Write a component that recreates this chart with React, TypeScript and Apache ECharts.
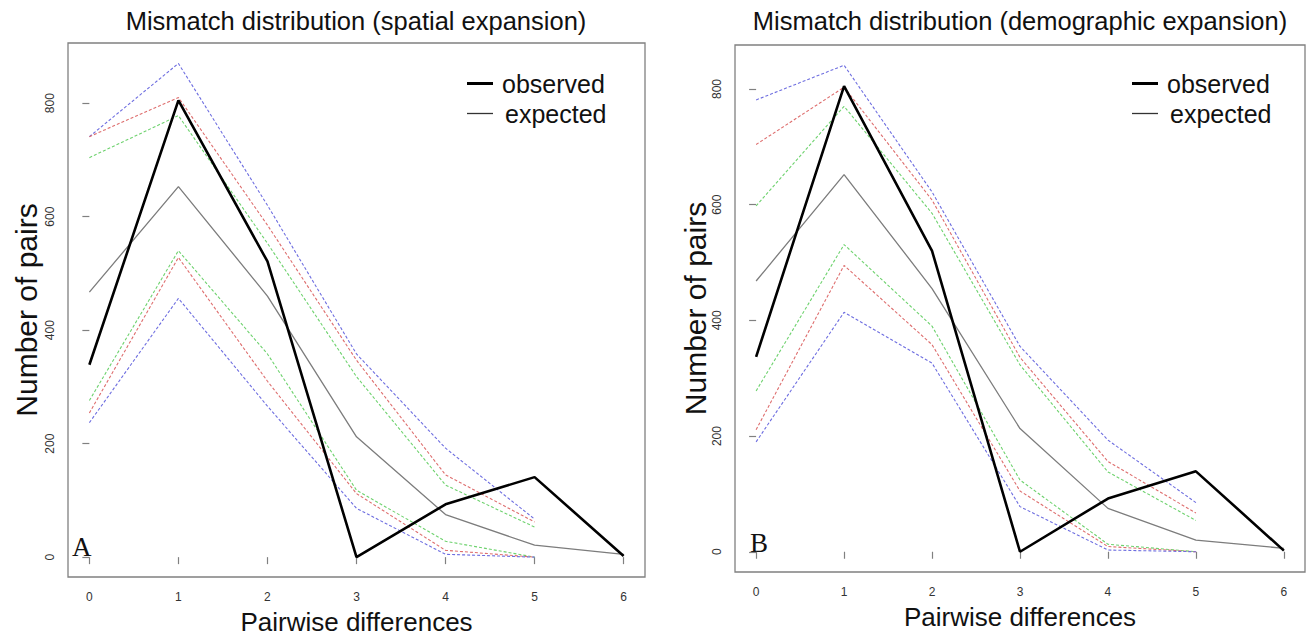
import React, { useEffect, useRef } from "react";
import * as echarts from "echarts";

// ---------- data ----------
const pairwiseDiffs = [0, 1, 2, 3, 4, 5, 6];
const xTicks = [0, 1, 2, 3, 4, 5, 6];
const yTicks = [0, 200, 400, 600, 800];

// Panel A: spatial expansion
const observedSpatial = [339, 805, 521, 0, 93, 141, 2];
const expectedSpatial = [467, 653, 460, 212, 75, 21, 5];
const upperBlueSpatial = [741, 870, 620, 358, 192, 67];
const upperRedSpatial = [741, 810, 585, 347, 145, 62];
const upperGreenSpatial = [704, 778, 553, 318, 127, 53];
const lowerGreenSpatial = [276, 540, 358, 118, 28, 0];
const lowerRedSpatial = [254, 528, 310, 112, 12, 0];
const lowerBlueSpatial = [237, 456, 266, 86, 5, 0];

// Panel B: demographic expansion
const observedDemographic = [337, 805, 520, 0, 92, 139, 2];
const expectedDemographic = [468, 652, 455, 213, 75, 20, 6];
const upperBlueDemographic = [781, 841, 622, 355, 193, 85];
const upperRedDemographic = [704, 803, 608, 336, 156, 67];
const upperGreenDemographic = [598, 770, 585, 323, 138, 54];
const lowerGreenDemographic = [278, 531, 390, 124, 13, 0];
const lowerRedDemographic = [211, 495, 358, 105, 9, 0];
const lowerBlueDemographic = [190, 414, 326, 78, 3, 0];

const titleSpatial = "Mismatch distribution (spatial expansion)";
const titleDemographic = "Mismatch distribution (demographic expansion)";

// ---------- styles ----------
const FONT = "'Liberation Sans', Arial, Helvetica, sans-serif";
const SERIF = "'Liberation Serif', 'Times New Roman', serif";
const BLUE = "#6e6ee0";
const RED = "#de6e6e";
const GREEN = "#6ed26e";
const GRAY = "#7c7c7c";
const BOX = "#808080";

const panels = [
  {
    title: titleSpatial,
    letter: "A",
    observed: observedSpatial,
    expected: expectedSpatial,
    upper: [upperBlueSpatial, upperRedSpatial, upperGreenSpatial],
    lower: [lowerGreenSpatial, lowerRedSpatial, lowerBlueSpatial],
    yMin: -35,
    yMax: 906,
    grid: { left: 68, top: 43, width: 577, height: 534 },
    titleX: 356,
    yNameGap: 27,
    letterPos: [72, 560],
    legendLeft: 467,
  },
  {
    title: titleDemographic,
    letter: "B",
    observed: observedDemographic,
    expected: expectedDemographic,
    upper: [upperBlueDemographic, upperRedDemographic, upperGreenDemographic],
    lower: [lowerGreenDemographic, lowerRedDemographic, lowerBlueDemographic],
    yMin: -35,
    yMax: 876,
    grid: { left: 735, top: 45, width: 570, height: 527 },
    titleX: 1020,
    yNameGap: 25,
    letterPos: [750, 556],
    legendLeft: 1132,
  },
];

const pts = (vals: number[]) => vals.map((v, i) => [pairwiseDiffs[i], v]);

export default function App() {
  const ref = useRef<HTMLDivElement>(null);

  useEffect(() => {
    if (!ref.current) return;
    const chart = echarts.init(ref.current, undefined, { renderer: "svg" });

    const grids: any[] = [];
    const xAxes: any[] = [];
    const yAxes: any[] = [];
    const series: any[] = [];
    const legends: any[] = [];
    const graphics: any[] = [];

    panels.forEach((p, pi) => {
      grids.push({
        ...p.grid,
        show: true,
        borderColor: BOX,
        borderWidth: 1.3,
        backgroundColor: "transparent",
        containLabel: false,
        outerBoundsMode: "none",
      });
      xAxes.push({
        gridIndex: pi,
        type: "value",
        min: -0.24,
        max: 6.24,
        axisLine: { show: false },
        splitLine: { show: false },
        axisTick: {
          show: true,
          inside: false,
          length: 7,
          lineStyle: { color: BOX, width: 1.2 },
          customValues: xTicks,
        },
        axisLabel: {
          customValues: xTicks,
          fontSize: 12,
          color: "#333",
          margin: 14,
          fontFamily: FONT,
        },
        name: "Pairwise differences",
        nameLocation: "middle",
        nameGap: 32,
        nameTextStyle: { fontSize: 26, color: "#111", fontFamily: FONT },
      });
      yAxes.push({
        gridIndex: pi,
        type: "value",
        min: p.yMin,
        max: p.yMax,
        axisLine: { show: false },
        splitLine: { show: false },
        axisTick: {
          show: true,
          inside: false,
          length: 7,
          lineStyle: { color: BOX, width: 1.2 },
          customValues: yTicks,
        },
        axisLabel: {
          customValues: yTicks,
          rotate: 90,
          fontSize: 12,
          color: "#333",
          margin: 12,
          fontFamily: FONT,
        },
        name: "Number of pairs",
        nameLocation: "middle",
        nameRotate: 90,
        nameGap: p.yNameGap,
        nameTextStyle: { fontSize: 30, color: "#111", fontFamily: FONT },
      });

      const dashed = (name: string, vals: number[], color: string) => ({
        type: "line",
        name,
        xAxisIndex: pi,
        yAxisIndex: pi,
        data: pts(vals),
        symbol: "none",
        silent: true,
        color,
        lineStyle: { color, width: 1.1, type: [3, 2] },
        z: 2,
      });
      const upperColors = [BLUE, RED, GREEN];
      const lowerColors = [GREEN, RED, BLUE];
      p.upper.forEach((u, k) =>
        series.push(dashed(`upper ${k + 1} (${p.letter})`, u, upperColors[k]))
      );
      p.lower.forEach((l, k) =>
        series.push(dashed(`lower ${k + 1} (${p.letter})`, l, lowerColors[k]))
      );
      series.push({
        type: "line",
        name: "expected",
        xAxisIndex: pi,
        yAxisIndex: pi,
        data: pts(p.expected),
        symbol: "none",
        silent: true,
        color: GRAY,
        lineStyle: { color: GRAY, width: 1.3 },
        z: 3,
      });
      series.push({
        type: "line",
        name: "observed",
        xAxisIndex: pi,
        yAxisIndex: pi,
        data: pts(p.observed),
        symbol: "none",
        silent: true,
        color: "#000",
        lineStyle: { color: "#000", width: 2.6 },
        z: 4,
      });

      const legendText = (pad: number) => ({
        fontSize: 25,
        color: "#111",
        fontFamily: FONT,
        padding: [0, 0, 0, pad],
      });
      legends.push({
        left: p.legendLeft,
        top: 71,
        orient: "vertical",
        padding: 0,
        itemWidth: 26,
        itemHeight: 3,
        icon: "rect",
        selectedMode: false,
        data: ["observed"],
        textStyle: legendText(4),
      });
      legends.push({
        left: p.legendLeft,
        top: 101,
        orient: "vertical",
        padding: 0,
        itemWidth: 26,
        itemHeight: 1.3,
        icon: "rect",
        selectedMode: false,
        data: ["expected"],
        itemStyle: { color: "#333" },
        textStyle: legendText(7),
      });

      graphics.push({
        type: "text",
        x: p.titleX,
        y: 21,
        silent: true,
        style: {
          text: p.title,
          font: `25.5px ${FONT}`,
          fill: "#111",
          align: "center",
          textAlign: "center",
          verticalAlign: "middle",
          textVerticalAlign: "middle",
        },
      });
      graphics.push({
        type: "text",
        x: p.letterPos[0],
        y: p.letterPos[1],
        silent: true,
        style: {
          text: p.letter,
          font: `27px ${SERIF}`,
          fill: "#111",
          align: "left",
          textAlign: "left",
          verticalAlign: "bottom",
          textVerticalAlign: "bottom",
        },
      });
    });

    chart.setOption({
      animation: false,
      backgroundColor: "#fff",
      textStyle: { fontFamily: FONT },
      grid: grids,
      xAxis: xAxes,
      yAxis: yAxes,
      legend: legends,
      series,
      graphic: graphics,
    });

    return () => chart.dispose();
  }, []);

  return (
    <div
      ref={ref}
      style={{ position: "absolute", left: 0, top: 0, width: 1308, height: 636 }}
    />
  );
}
